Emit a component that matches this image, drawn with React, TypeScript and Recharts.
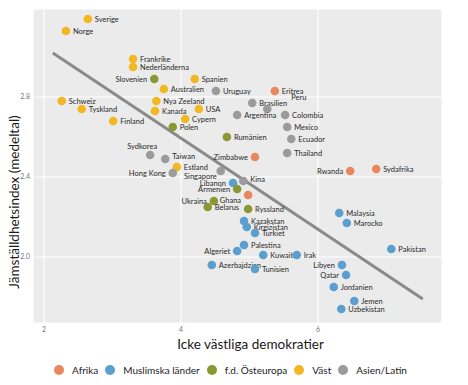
import { ScatterChart, Scatter, XAxis, YAxis, CartesianGrid, ReferenceLine, Legend, Label } from 'recharts'

const COLORS = { afrika: '#E8885C', muslim: '#5A9FCF', ost: '#8A9833', vast: '#F3B722', asien: '#9B9B9B' }
const FONT = 'Lato, "Open Sans", sans-serif'

// Afrika
const afrikaNames = ['Eritrea', 'Zimbabwe', 'Rwanda', 'Sydafrika', 'Ghana']
const afrikaX = [5.37, 5.08, 6.47, 6.85, 4.98]
const afrikaY = [2.83, 2.5, 2.43, 2.44, 2.31]

// Muslimska länder
const muslimNames = ['Libanon', 'Kazakstan', 'Kirgizistan', 'Turkiet', 'Palestina', 'Algeriet', 'Kuwait', 'Irak', 'Azerbajdzjan', 'Tunisien', 'Malaysia', 'Marocko', 'Pakistan', 'Libyen', 'Qatar', 'Jordanien', 'Jemen', 'Uzbekistan']
const muslimX = [4.76, 4.92, 4.96, 5.08, 4.92, 4.82, 5.2, 5.69, 4.45, 5.08, 6.31, 6.42, 7.07, 6.35, 6.41, 6.23, 6.53, 6.34]
const muslimY = [2.37, 2.18, 2.15, 2.12, 2.06, 2.03, 2.01, 2.01, 1.96, 1.94, 2.22, 2.17, 2.04, 1.96, 1.91, 1.85, 1.78, 1.74]

// f.d. Östeuropa
const ostNames = ['Slovenien', 'Polen', 'Rumänien', 'Armenien', 'Ukraina', 'Belarus', 'Ryssland']
const ostX = [3.61, 3.88, 4.67, 4.82, 4.48, 4.39, 4.98]
const ostY = [2.89, 2.65, 2.6, 2.34, 2.28, 2.25, 2.24]

// Väst
const vastNames = ['Sverige', 'Norge', 'Frankrike', 'Nederländerna', 'Spanien', 'Australien', 'Schweiz', 'Nya Zeeland', 'Tyskland', 'Kanada', 'USA', 'Finland', 'Cypern', 'Estland']
const vastX = [2.64, 2.32, 3.3, 3.3, 4.2, 3.75, 2.26, 3.64, 2.55, 3.62, 4.26, 3.01, 4.06, 3.94]
const vastY = [3.19, 3.13, 2.99, 2.95, 2.89, 2.84, 2.78, 2.78, 2.74, 2.73, 2.74, 2.68, 2.69, 2.45]

// Asien/Latin
const asienNames = ['Uruguay', 'Brasilien', 'Peru', 'Argentina', 'Colombia', 'Mexico', 'Ecuador', 'Thailand', 'Sydkorea', 'Taiwan', 'Hong Kong', 'Singapore', 'Kina']
const asienX = [4.51, 5.04, 5.26, 4.82, 5.52, 5.55, 5.61, 5.55, 3.55, 3.77, 3.88, 4.58, 4.91]
const asienY = [2.83, 2.77, 2.74, 2.71, 2.71, 2.65, 2.59, 2.52, 2.51, 2.49, 2.42, 2.43, 2.38]

// regression line end points
const trendX = [2.13, 7.53]
const trendY = [3.02, 1.79]

const xTicks = [2, 4, 6]
const yTicks = [2.0, 2.4, 2.8]

// label placement
const LEFT_LABELS = new Set(['Slovenien', 'Zimbabwe', 'Rwanda', 'Libyen', 'Qatar', 'Algeriet', 'Hong Kong', 'Libanon', 'Armenien', 'Ukraina', 'Ghana', 'Singapore'])
const NUDGE: Record<string, [number, number]> = { Peru: [17, -12], Taiwan: [0, -3], Singapore: [3, 5], Ghana: [0, 5], Kina: [0, -2] }

const toPoints = (names: string[], xs: number[], ys: number[]) => names.map((name, i) => ({ name, x: xs[i], y: ys[i] }))

const GROUPS = [
  { name: 'Afrika', color: COLORS.afrika, data: toPoints(afrikaNames, afrikaX, afrikaY) },
  { name: 'Muslimska länder', color: COLORS.muslim, data: toPoints(muslimNames, muslimX, muslimY) },
  { name: 'f.d. Östeuropa', color: COLORS.ost, data: toPoints(ostNames, ostX, ostY) },
  { name: 'Väst', color: COLORS.vast, data: toPoints(vastNames, vastX, vastY) },
  { name: 'Asien/Latin', color: COLORS.asien, data: toPoints(asienNames, asienX, asienY) },
]

const makeShape = (color: string) => (props: any) => {
  const { cx, cy, payload } = props
  const name = payload.name
  const [dx, dy] = NUDGE[name] ?? [0, 0]
  let label
  if (name === 'Sydkorea') {
    label = <text x={cx - 8} y={cy - 6} textAnchor="middle" fontSize={7.5} fill="#2a2a2a" fontFamily={FONT}>{name}</text>
  } else {
    const left = LEFT_LABELS.has(name)
    label = (
      <text x={cx + (left ? -7 : 7) + dx} y={cy + dy} dy="0.35em" textAnchor={left ? 'end' : 'start'} fontSize={7.5} fill="#2a2a2a" fontFamily={FONT}>{name}</text>
    )
  }
  return (
    <g>
      <circle cx={cx} cy={cy} r={4.3} fill={color} />
      {label}
    </g>
  )
}

// legend drawn in group order (recharts would sort it otherwise)
const renderLegend = () => (
  <div style={{ display: 'flex', flexWrap: 'nowrap', whiteSpace: 'nowrap', justifyContent: 'center', alignItems: 'center', fontFamily: FONT, fontSize: 10, lineHeight: '14px', color: '#222' }}>
    {GROUPS.map(g => (
      <span key={g.name} style={{ display: 'flex', alignItems: 'center', marginRight: 7 }}>
        <span style={{ width: 10, height: 10, borderRadius: 5, background: g.color, display: 'inline-block', marginRight: 8 }} />
        {g.name}
      </span>
    ))}
  </div>
)

export default function App() {
  return (
    <div style={{ position: 'absolute', left: 0, top: 0, width: 468, height: 385, background: '#fff' }}>
      <ScatterChart width={468} height={385} margin={{ top: 9, right: 26, bottom: 22, left: 0 }}>
        <CartesianGrid fill="#EBEBEB" stroke="#ffffff" strokeWidth={1.2} />
        <XAxis type="number" dataKey="x" domain={[1.84, 7.81]} ticks={xTicks} allowDataOverflow height={40}
          tickLine={false} axisLine={false} tickSize={3} tickMargin={1}
          tick={{ fontSize: 7, fill: '#777', fontFamily: FONT }}>
          <Label content={({ viewBox }: any) => (
            <text x={viewBox.x + viewBox.width / 2 + 13} y={viewBox.y + 21} dy="0.35em" textAnchor="middle" fontSize={13.5} fill="#1a1a1a" fontFamily={FONT}>Icke västliga demokratier</text>
          )} />
        </XAxis>
        <YAxis type="number" dataKey="y" domain={[1.67, 3.24]} ticks={yTicks} allowDataOverflow width={33}
          tickLine={false} axisLine={false} tickSize={3} tickMargin={0}
          tickFormatter={(v: number) => v.toFixed(1)}
          tick={{ fontSize: 7, fill: '#777', fontFamily: FONT }}>
          <Label content={({ viewBox }: any) => {
            const x = viewBox.x + 14
            const y = viewBox.y + viewBox.height / 2 + 36
            return (
              <text x={x} y={y} dy="0.35em" textAnchor="middle" transform={`rotate(-90 ${x} ${y})`} fontSize={13.5} fill="#1a1a1a" fontFamily={FONT}>Jämställdhetsindex (medeltal)</text>
            )
          }} />
        </YAxis>
        <ReferenceLine segment={[{ x: trendX[0], y: trendY[0] }, { x: trendX[1], y: trendY[1] }]} stroke="#8a8a8a" strokeWidth={3} />
        {GROUPS.map(g => (
          <Scatter key={g.name} name={g.name} data={g.data} fill={g.color} shape={makeShape(g.color)} isAnimationActive={false} />
        ))}
        <Legend verticalAlign="middle" align="center" content={renderLegend}
          wrapperStyle={{ top: 363, left: 0, width: 468 }} />
      </ScatterChart>
    </div>
  )
}
